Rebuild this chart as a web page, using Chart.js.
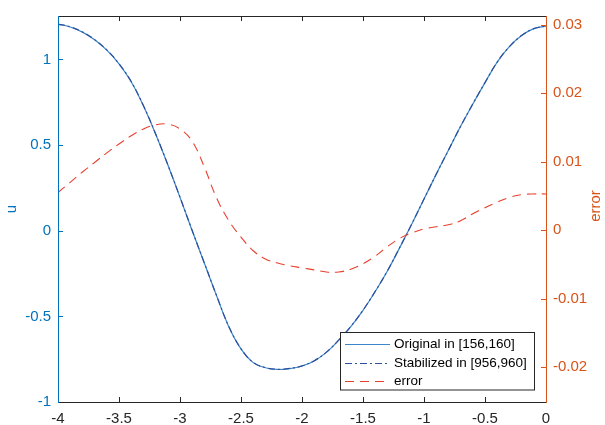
<!DOCTYPE html>
<html>
<head>
<meta charset="utf-8">
<script src="https://cdn.jsdelivr.net/npm/chart.js@4"></script>
<style>
  html, body { margin: 0; padding: 0; background: #fff; }
  #wrap { width: 605px; height: 425px; }
</style>
</head>
<body>
<div id="wrap"><canvas id="c" width="605" height="425"></canvas></div>
<script>
// ---- data ----
const xValues = [-4.0,-3.9,-3.8,-3.7,-3.6,-3.5,-3.4,-3.3,-3.2,-3.1,-3.0,-2.9,-2.8,-2.7,-2.6,-2.5,-2.4,-2.3,-2.2,-2.1,-2.0,-1.9,-1.8,-1.7,-1.6,-1.5,-1.4,-1.3,-1.2,-1.1,-1.0,-0.9,-0.8,-0.7,-0.6,-0.5,-0.4,-0.3,-0.2,-0.1,0.0];
const originalU = [1.207,1.19,1.16,1.115,1.055,0.975,0.87,0.73,0.565,0.385,0.195,0.0,-0.19,-0.38,-0.56,-0.69,-0.77,-0.80,-0.81,-0.805,-0.79,-0.76,-0.71,-0.64,-0.56,-0.465,-0.355,-0.235,-0.10,0.04,0.185,0.33,0.47,0.61,0.74,0.865,0.985,1.075,1.14,1.18,1.195];
const stabilizedU = [1.207,1.191,1.161,1.116,1.056,0.976,0.871,0.731,0.566,0.386,0.196,0.001,-0.189,-0.379,-0.559,-0.689,-0.769,-0.799,-0.809,-0.804,-0.789,-0.759,-0.709,-0.639,-0.559,-0.464,-0.354,-0.234,-0.099,0.04,0.185,0.33,0.47,0.61,0.74,0.865,0.985,1.075,1.14,1.18,1.195];
const errorValues = [0.0055,0.0070,0.0085,0.0099,0.0113,0.0126,0.0138,0.0148,0.0154,0.0155,0.0148,0.0130,0.0092,0.0047,0.0014,-0.0010,-0.0030,-0.0042,-0.0048,-0.0052,-0.0055,-0.0058,-0.0061,-0.0061,-0.0057,-0.0049,-0.0038,-0.0024,-0.0012,-0.0004,0.0002,0.0005,0.0008,0.0014,0.0024,0.0033,0.0041,0.0048,0.0052,0.0053,0.0053];
const xTicks = [-4,-3.5,-3,-2.5,-2,-1.5,-1,-0.5,0];
const uTicks = [-1,-0.5,0,0.5,1];
const errTicks = [-0.02,-0.01,0,0.01,0.02,0.03];
const seriesLabels = ['Original in [156,160]', 'Stabilized in [956,960]', 'error'];
const axisTitles = ['u', 'error'];

const BLUE = '#0072BD';
const ORANGE = '#D95319';
const DARK = '#262626';
const FONT = '"Liberation Sans", Arial, Helvetica, sans-serif';

const toPts = (ys) => ys.map((y, i) => ({ x: xValues[i], y }));

const decorPlugin = {
  id: 'decor',
  afterDatasetsDraw(chart) {
    const { ctx, chartArea: a, scales } = chart;
    const L = a.left, R = a.right, T = a.top, B = a.bottom;
    ctx.save();
    ctx.lineWidth = 1;
    ctx.strokeStyle = DARK;
    xTicks.forEach(v => {
      const px = Math.round(scales.x.getPixelForValue(v)) + 0.5;
      ctx.beginPath();
      ctx.moveTo(px, B); ctx.lineTo(px, B - 5);
      ctx.moveTo(px, T); ctx.lineTo(px, T + 5);
      ctx.stroke();
    });
    ctx.strokeStyle = BLUE;
    uTicks.forEach(v => {
      const py = Math.round(scales.y.getPixelForValue(v)) + 0.5;
      ctx.beginPath(); ctx.moveTo(L, py); ctx.lineTo(L + 5, py); ctx.stroke();
    });
    ctx.strokeStyle = ORANGE;
    errTicks.forEach(v => {
      const py = Math.round(scales.y2.getPixelForValue(v)) + 0.5;
      ctx.beginPath(); ctx.moveTo(R, py); ctx.lineTo(R - 5, py); ctx.stroke();
    });
    ctx.strokeStyle = DARK;
    ctx.beginPath();
    ctx.moveTo(L, T + 0.5); ctx.lineTo(R, T + 0.5);
    ctx.moveTo(L, B + 0.5); ctx.lineTo(R, B + 0.5);
    ctx.stroke();
    ctx.strokeStyle = BLUE;
    ctx.beginPath(); ctx.moveTo(L + 0.5, T); ctx.lineTo(L + 0.5, B + 1); ctx.stroke();
    ctx.strokeStyle = ORANGE;
    ctx.beginPath(); ctx.moveTo(R + 0.5, T); ctx.lineTo(R + 0.5, B + 1); ctx.stroke();

    ctx.font = '15px ' + FONT;
    ctx.textAlign = 'center';
    ctx.textBaseline = 'middle';
    const midY = (T + B) / 2;
    ctx.fillStyle = BLUE;
    ctx.save(); ctx.translate(12, midY); ctx.rotate(-Math.PI / 2); ctx.fillText(axisTitles[0], 0, 0); ctx.restore();
    ctx.fillStyle = ORANGE;
    ctx.save(); ctx.translate(596, midY - 3); ctx.rotate(-Math.PI / 2); ctx.fillText(axisTitles[1], 0, 0); ctx.restore();

    const bx = 340.5, by = 332.5, bw = 194, bh = 57.5;
    ctx.fillStyle = '#fff';
    ctx.fillRect(bx, by, bw, bh);
    ctx.strokeStyle = DARK;
    ctx.setLineDash([]);
    ctx.strokeRect(bx, by, bw, bh);
    const rows = [344, 362.5, 380.5];
    ctx.font = '13.5px ' + FONT;
    ctx.textAlign = 'left';
    ctx.textBaseline = 'middle';
    chart.data.datasets.forEach((ds, i) => {
      const y = Math.round(rows[i]) + 0.5;
      ctx.strokeStyle = ds.borderColor;
      ctx.lineWidth = ds.borderWidth;
      ctx.setLineDash(ds.borderDash || []);
      ctx.beginPath(); ctx.moveTo(345, y); ctx.lineTo(390, y); ctx.stroke();
      ctx.setLineDash([]);
      ctx.fillStyle = '#000';
      ctx.fillText(ds.label, 394, rows[i] + 0.5);
    });
    ctx.restore();
  }
};

const chart = new Chart(document.getElementById('c'), {
  type: 'line',
  data: {
    datasets: [
      { label: seriesLabels[0], data: toPts(originalU), yAxisID: 'y', borderColor: '#3a86c8', borderWidth: 1.2, pointRadius: 0, tension: 0.4, order: 3 },
      { label: seriesLabels[1], data: toPts(stabilizedU), yAxisID: 'y', borderColor: '#2f4f9e', borderWidth: 1.2, borderDash: [7, 3, 2, 3], pointRadius: 0, tension: 0.4, order: 2 },
      { label: seriesLabels[2], data: toPts(errorValues), yAxisID: 'y2', borderColor: '#e8402f', borderWidth: 1.1, borderDash: [9, 6], pointRadius: 0, tension: 0.4, order: 1 }
    ]
  },
  options: {
    responsive: false,
    animation: false,
    layout: { padding: { top: 11, left: 0, right: 0, bottom: 0 }, autoPadding: false },
    plugins: { legend: { display: false }, tooltip: { enabled: false } },
    scales: {
      x: {
        type: 'linear', min: -4, max: 0,
        afterBuildTicks: s => { s.ticks = xTicks.map(v => ({ value: v })); },
        afterFit: s => { s.height = 23; },
        grid: { display: false, drawTicks: false },
        border: { display: false },
        ticks: { color: DARK, font: { family: FONT, size: 15 }, padding: 8, maxRotation: 0, callback: v => String(v) }
      },
      y: {
        type: 'linear', position: 'left', min: -1, max: 1.254,
        afterBuildTicks: s => { s.ticks = uTicks.map(v => ({ value: v })); },
        afterFit: s => { s.width = 58; },
        grid: { display: false, drawTicks: false },
        border: { display: false },
        ticks: { color: BLUE, font: { family: FONT, size: 15 }, padding: 7, callback: v => String(v) }
      },
      y2: {
        type: 'linear', position: 'right', min: -0.0251, max: 0.0313,
        afterBuildTicks: s => { s.ticks = errTicks.map(v => ({ value: v })); },
        afterFit: s => { s.width = 59; },
        grid: { display: false, drawTicks: false },
        border: { display: false },
        ticks: { color: ORANGE, font: { family: FONT, size: 15 }, padding: 7, callback: v => String(v) }
      }
    }
  },
  plugins: [decorPlugin]
});
</script>
</body>
</html>
